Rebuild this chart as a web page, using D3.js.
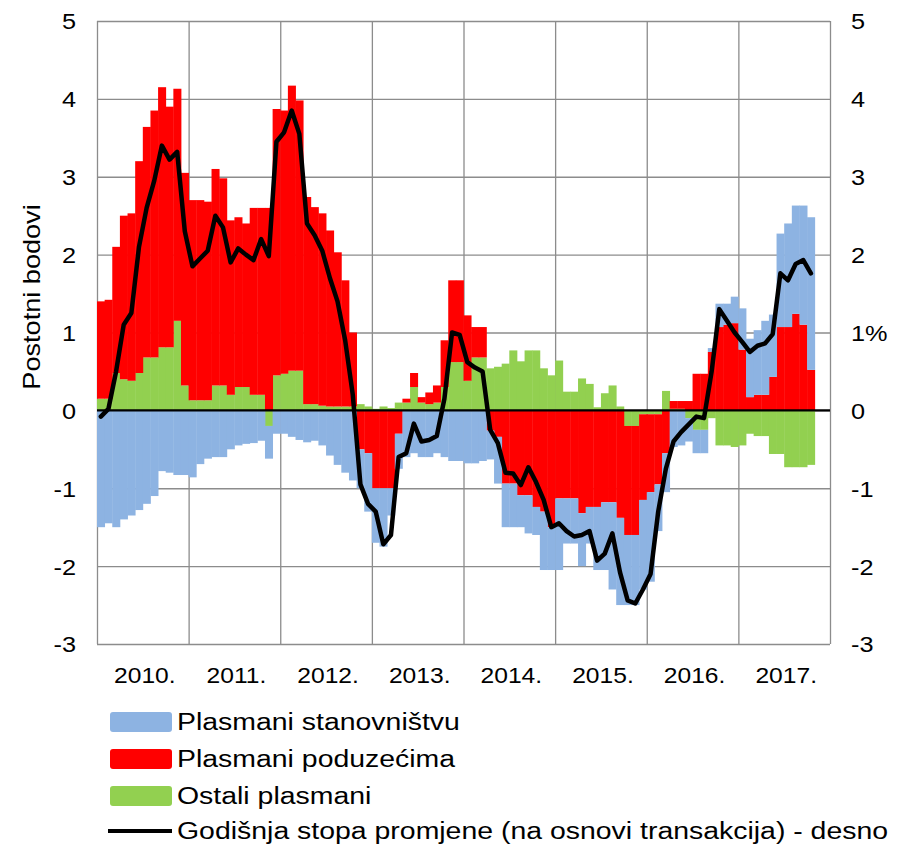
<!DOCTYPE html>
<html>
<head>
<meta charset="utf-8">
<script src="https://cdnjs.cloudflare.com/ajax/libs/d3/7.8.5/d3.min.js"></script>
<style>
  body { margin: 0; background: #fff; }
  svg text { font-family: "Liberation Sans", Arial, sans-serif; fill: #000; }
</style>
</head>
<body>
<script>
// year labels on the x axis, monthly data from Jan 2010
var years = ["2010.", "2011.", "2012.", "2013.", "2014.", "2015.", "2016.", "2017."];
var yTicks = [-3, -2, -1, 0, 1, 2, 3, 4, 5];

// contributions, percentage points
var stanovnistvo = [
  -1.5, -1.45, -1.5, -1.4, -1.35, -1.28, -1.2, -1.1, -0.78, -0.8, -0.83, -0.83,
  -0.86, -0.69, -0.62, -0.6, -0.6, -0.5, -0.45, -0.43, -0.42, -0.39, -0.42, -0.3,
  -0.3, -0.34, -0.38, -0.41, -0.39, -0.45, -0.58, -0.7, -0.8, -0.9, -0.5, -0.75,
  -0.7, -0.75, -0.35, -0.45, -0.6, -0.55, -0.6, -0.6, -0.55, -0.6, -0.65, -0.65,
  -0.68, -0.68, -0.65, -0.37, -0.6, -0.56, -0.56, -0.41, -0.49, -0.36, -0.75, -0.55,
  -0.92, -0.58, -0.58, -0.68, -0.47, -0.81, -0.87, -1.12, -1.12, -0.9, -0.9, -1.15,
  -1.15, -0.6, -0.5, -0.47, -0.45, -0.3, -0.3, -0.3, 0.05, 0.3, 0.27, 0.34,
  0.53, 0.75, 0.83, 0.95, 0.8, 1.2, 1.33, 1.39, 1.53, 1.96
];
var poduzeca = [
  1.25, 1.27, 1.62, 2.1, 2.15, 2.72, 2.96, 3.17, 3.34, 3.09, 2.98, 2.73,
  2.57, 2.57, 2.55, 2.78, 2.66, 2.24, 2.18, 2.1, 2.4, 2.4, 2.6, 3.42,
  3.38, 3.66, 3.47, 2.66, 2.53, 2.47, 2.26, 1.98, 1.62, 0.95, -0.5, -0.55,
  -1.0, -1.0, -1.0, -0.3, 0.05, 0.18, 0.07, 0.15, 0.22, 0.6, 1.05, 1.05,
  0.84, 0.39, 0.39, -0.26, -0.34, -0.94, -0.94, -1.09, -1.09, -1.24, -1.3, -1.5,
  -1.13, -1.13, -1.13, -1.32, -1.24, -1.24, -1.18, -1.18, -1.38, -1.4, -1.4, -1.1,
  -1.0, -0.9, -0.55, 0.1, 0.1, 0.12, 0.47, 0.47, 0.75, 1.07, 1.1, 1.12,
  0.78, 0.17, 0.2, 0.2, 0.43, 1.07, 1.07, 1.24, 1.1, 0.52
];
var ostali = [
  0.15, 0.15, 0.48, 0.4, 0.38, 0.48, 0.68, 0.68, 0.81, 0.81, 1.15, 0.32,
  0.13, 0.13, 0.13, 0.32, 0.32, 0.2, 0.3, 0.3, 0.2, 0.2, -0.2, 0.45,
  0.47, 0.51, 0.51, 0.08, 0.08, 0.06, 0.05, 0.05, 0.05, 0.05, 0.08, 0.05,
  0.02, 0.05, 0.03, 0.1, 0.1, 0.3, 0.1, 0.08, 0.1, 0.3, 0.62, 0.62,
  0.38, 0.68, 0.68, 0.54, 0.56, 0.6, 0.77, 0.63, 0.77, 0.77, 0.54, 0.45,
  0.64, 0.24, 0.24, 0.41, 0.34, 0.04, 0.22, 0.32, 0.05, -0.2, -0.2, -0.05,
  -0.05, -0.05, 0.25, 0.02, 0.02, -0.1, -0.25, -0.25, -0.1, -0.45, -0.45, -0.47,
  -0.45, -0.3, -0.33, -0.33, -0.56, -0.56, -0.73, -0.73, -0.73, -0.7
];
// annual rate of change, right axis (%)
var stopa = [
  -0.08, 0.02, 0.5, 1.1, 1.25, 2.1, 2.6, 2.95, 3.4, 3.22, 3.32, 2.3,
  1.85, 1.95, 2.05, 2.5, 2.35, 1.9, 2.08, 2.0, 1.93, 2.2, 1.98, 3.45,
  3.57, 3.85, 3.55, 2.4, 2.25, 2.05, 1.7, 1.4, 0.9, 0.2, -0.95, -1.2,
  -1.3, -1.72, -1.6, -0.6, -0.55, -0.17, -0.4, -0.38, -0.33, 0.15, 1.0, 0.97,
  0.62, 0.55, 0.5, -0.25, -0.42, -0.8, -0.81, -0.96, -0.73, -0.92, -1.15, -1.5,
  -1.45, -1.55, -1.62, -1.6, -1.55, -1.93, -1.84, -1.58, -2.08, -2.44, -2.48, -2.3,
  -2.1, -1.3, -0.75, -0.4, -0.28, -0.18, -0.08, -0.1, 0.5, 1.3, 1.15, 1.0,
  0.88, 0.75, 0.83, 0.86, 0.98, 1.76, 1.67, 1.88, 1.93, 1.76
];

var legendItems = [
  {key: "stan", label: "Plasmani stanovništvu"},
  {key: "pod", label: "Plasmani poduzećima"},
  {key: "ost", label: "Ostali plasmani"},
  {key: "line", label: "Godišnja stopa promjene (na osnovi transakcija) - desno"}
];

var colors = {stan: "#8db3e2", pod: "#ff0000", ost: "#92d050"};

var width = 903,
    height = 844;
var plotLeft = 97, plotRight = 830, plotTop = 21, plotBottom = 644;

var svg = d3.select("body").append("svg")
  .attr("width", width)
  .attr("height", height);

var nMonths = years.length * 12;

var x = d3.scaleLinear().domain([0, nMonths]).range([plotLeft, plotRight]);
var y = d3.scaleLinear().domain([-3, 5]).range([plotBottom, plotTop]);
var yRight = d3.scaleLinear().domain([-3, 5]).range([plotBottom, plotTop]);

// grid
svg.append("g")
  .attr("transform", "translate(" + plotLeft + ",0)")
  .call(d3.axisLeft(y).tickValues(yTicks).tickSize(-(plotRight - plotLeft)).tickFormat(""))
  .call(function(g) {
    g.select(".domain").remove();
    g.selectAll("line").attr("stroke", "#8c8c8c").attr("stroke-width", 1.3);
  });

svg.append("g")
  .attr("transform", "translate(0," + plotBottom + ")")
  .call(d3.axisBottom(x).tickValues(d3.range(0, nMonths + 1, 12)).tickSize(-(plotBottom - plotTop)).tickFormat(""))
  .call(function(g) {
    g.select(".domain").remove();
    g.selectAll("line").attr("stroke", "#8c8c8c").attr("stroke-width", 1.3);
  });

// stacked bars
var rows = stanovnistvo.map(function(d, i) {
  return {i: i, stan: d, pod: poduzeca[i], ost: ostali[i]};
});

var series = d3.stack()
  .keys(["ost", "pod", "stan"])
  .offset(d3.stackOffsetDiverging)(rows);

svg.append("g").selectAll("g")
  .data(series)
  .enter().append("g")
  .attr("fill", function(s) { return colors[s.key]; })
  .selectAll("rect")
  .data(function(s) { return s; })
  .enter().append("rect")
  .attr("x", function(d) { return x(d.data.i); })
  .attr("width", function(d) { return x(d.data.i + 1) - x(d.data.i) + 0.4; })
  .attr("y", function(d) { return y(Math.max(d[0], d[1])); })
  .attr("height", function(d) { return Math.abs(y(d[0]) - y(d[1])); });

// zero line
svg.append("line")
  .attr("x1", plotLeft).attr("x2", plotRight)
  .attr("y1", y(0)).attr("y2", y(0))
  .attr("stroke", "#000")
  .attr("stroke-width", 2.2);

// rate line
var line = d3.line()
  .x(function(d, i) { return x(i + 0.5); })
  .y(function(d) { return yRight(d); });

svg.append("path")
  .datum(stopa)
  .attr("fill", "none")
  .attr("stroke", "#000")
  .attr("stroke-width", 4.5)
  .attr("stroke-linejoin", "round")
  .attr("stroke-linecap", "round")
  .attr("d", line);

// axes labels
var tickSx = 1.15;

svg.append("g")
  .attr("transform", "translate(" + plotLeft + ",0)")
  .call(d3.axisLeft(y).tickValues(yTicks).tickSize(0).tickFormat(function(d) { return String(d); }))
  .call(function(g) {
    g.select(".domain").remove();
    g.selectAll("text")
      .attr("x", -21 / tickSx)
      .attr("dy", "0.36em")
      .attr("transform", "scale(" + tickSx + ",1)")
      .style("font-size", "22px");
  });

svg.append("g")
  .attr("transform", "translate(" + plotRight + ",0)")
  .call(d3.axisRight(yRight).tickValues(yTicks).tickSize(0)
    .tickFormat(function(d) { return d === 1 ? "1%" : String(d); }))
  .call(function(g) {
    g.select(".domain").remove();
    g.selectAll("text")
      .attr("x", 21 / tickSx)
      .attr("dy", "0.36em")
      .attr("transform", "scale(" + tickSx + ",1)")
      .style("font-size", "22px");
  });

var yearSx = 1.12;
svg.append("g")
  .attr("transform", "translate(0," + plotBottom + ")")
  .call(d3.axisBottom(x).tickValues(years.map(function(d, i) { return i * 12 + 6; })).tickSize(0)
    .tickFormat(function(d) { return years[(d - 6) / 12]; }))
  .call(function(g) {
    g.select(".domain").remove();
    g.selectAll("text")
      .attr("y", 0)
      .attr("dy", "39px")
      .attr("transform", "scale(" + yearSx + ",1)")
      .style("font-size", "22px");
    g.selectAll(".tick").each(function(d) {
      d3.select(this).attr("transform", "translate(" + (x(d) + 2) + ",0)");
    });
  });

svg.append("text")
  .attr("transform", "translate(40,297) rotate(-90) scale(1.13,1)")
  .attr("text-anchor", "middle")
  .style("font-size", "24px")
  .text("Postotni bodovi");

// legend
var legend = svg.append("g").attr("class", "legend");
var rowY = [722, 759, 796, 831];

legendItems.forEach(function(item, i) {
  var g = legend.append("g").attr("transform", "translate(0," + rowY[i] + ")");
  if (item.key === "line") {
    g.append("line")
      .attr("x1", 108).attr("x2", 172)
      .attr("y1", 0).attr("y2", 0)
      .attr("stroke", "#000")
      .attr("stroke-width", 4);
  } else {
    g.append("rect")
      .attr("x", 110).attr("y", -10)
      .attr("width", 62).attr("height", 20)
      .attr("rx", 3)
      .attr("fill", colors[item.key]);
  }
  g.append("text")
    .attr("transform", "translate(177,8) scale(1.21,1)")
    .style("font-size", "23.5px")
    .text(item.label);
});
</script>
</body>
</html>
